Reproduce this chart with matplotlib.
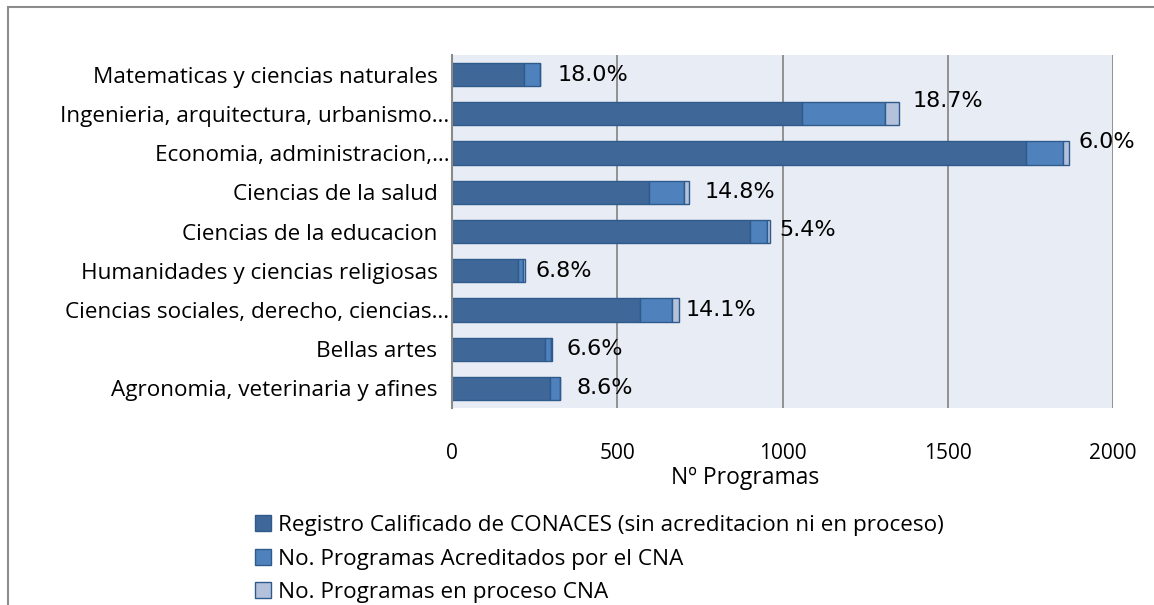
import matplotlib.pyplot as plt
from matplotlib.patches import Rectangle

categorias = [
    "Matematicas y ciencias naturales\u00a0\u00a0",
    "Ingenieria, arquitectura, urbanismo…",
    "Economia, administracion,…",
    "Ciencias de la salud\u00a0\u00a0",
    "Ciencias de la educacion\u00a0\u00a0",
    "Humanidades y ciencias religiosas\u00a0\u00a0",
    "Ciencias sociales, derecho, ciencias…",
    "Bellas artes\u00a0\u00a0",
    "Agronomia, veterinaria y afines\u00a0\u00a0",
]
registro = [219, 1058, 1737, 596, 902, 201, 570, 280, 298]
acreditados = [48, 253, 112, 106, 52, 15, 97, 20, 28]
en_proceso = [0, 42, 18, 15, 8, 5, 21, 3, 1]
pct_labels = ["18.0%", "18.7%", "6.0%", "14.8%", "5.4%", "6.8%", "14.1%", "6.6%", "8.6%"]
series_names = [
    "Registro Calificado de CONACES (sin acreditacion ni en proceso)",
    "No. Programas Acreditados por el CNA",
    "No. Programas en proceso CNA",
]

# label offsets in pixels (dx, dy) from bar end, as placed in the original
lbl_dx = [17, 13, 9, 16, 9, 10, 6, 14, 16]
lbl_dy = [0, 13, 11, 0, 2, 0, 0, 0, 0]

plt.rcParams["font.family"] = ["Open Sans", "DejaVu Sans"]

fig = plt.figure(figsize=(11.54, 6.05), dpi=100)
ax = fig.add_axes([452 / 1154, 1 - 408 / 605, 661 / 1154, 353 / 605])
ax.set_facecolor("#E8ECF4")

c_dark = "#3F6899"
c_med = "#4F81BD"
c_light = "#B3C1DB"
edge = "#2E5A8C"

y = list(range(len(categorias)))
h = 0.59
left2 = [a + b for a, b in zip(registro, acreditados)]
ax.barh(y, registro, height=h, color=c_dark, edgecolor=edge, linewidth=1, label=series_names[0], zorder=3)
ax.barh(y, acreditados, left=registro, height=h, color=c_med, edgecolor=edge, linewidth=1, label=series_names[1], zorder=3)
ax.barh(y, en_proceso, left=left2, height=h, color=c_light, edgecolor=edge, linewidth=1, label=series_names[2], zorder=3)

for i in y:
    total = left2[i] + en_proceso[i]
    ax.annotate(pct_labels[i], xy=(total, i), xytext=(lbl_dx[i] * 0.72, lbl_dy[i] * 0.72),
                textcoords="offset points", va="center", ha="left",
                fontsize=16, family="DejaVu Sans", color="black", zorder=5)

ax.set_xlim(0, 2000)
ax.set_ylim(len(categorias) - 0.5, -0.5)
ax.set_yticks(y)
ax.set_yticklabels(categorias, fontsize=16.2)
ax.set_xticks([0, 500, 1000, 1500, 2000])
ax.tick_params(axis="both", length=0)
ax.tick_params(axis="y", pad=2)
ax.tick_params(axis="x", pad=25, labelsize=15)
ax.set_xlabel("Nº Programas", fontsize=16.5, labelpad=0)
ax.xaxis.set_label_coords(0.443, -0.165)
ax.xaxis.grid(True, color="#8A8A8A", linewidth=1.3, zorder=1)
for s in ["top", "right", "bottom"]:
    ax.spines[s].set_visible(False)
ax.spines["left"].set_color("#8A8A8A")
ax.spines["left"].set_linewidth(1.5)
ax.spines["left"].set_zorder(4)

fig.legend(loc="upper left", bbox_to_anchor=(246 / 1154, 1 - 506 / 605), frameon=False,
           fontsize=16.2, handlelength=0.7, handleheight=0.7, handletextpad=0.3,
           labelspacing=0.56, borderaxespad=0)

fig.patches.append(Rectangle((8 / 1154, -0.1), 1.2, 1 - 7 / 605 + 0.1, transform=fig.transFigure,
                             fill=False, edgecolor="#8C8C8C", linewidth=1.5))

fig.savefig("out.png", dpi=100)
